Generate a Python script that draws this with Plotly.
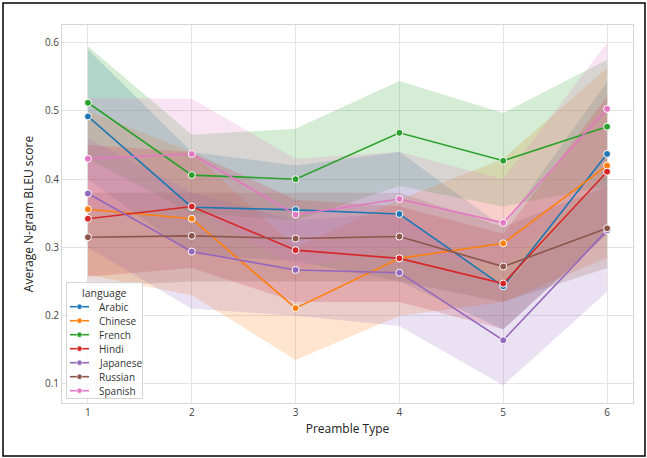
import plotly.graph_objects as go

preamble = [1, 2, 3, 4, 5, 6]
languages = ["Arabic", "Chinese", "French", "Hindi", "Japanese", "Russian", "Spanish"]
colors = ["#1f77b4", "#ff7f0e", "#2ca02c", "#d62728", "#9467bd", "#8c564b", "#e377c2"]

arabic = [0.492, 0.359, 0.355, 0.349, 0.243, 0.437]
chinese = [0.356, 0.342, 0.211, 0.284, 0.306, 0.420]
french = [0.512, 0.406, 0.400, 0.468, 0.427, 0.477]
hindi = [0.342, 0.360, 0.296, 0.284, 0.247, 0.411]
japanese = [0.379, 0.294, 0.267, 0.263, 0.164, 0.325]
russian = [0.315, 0.317, 0.313, 0.316, 0.272, 0.328]
spanish = [0.430, 0.437, 0.348, 0.371, 0.336, 0.503]

arabic_lo = [0.40, 0.29, 0.28, 0.25, 0.18, 0.32]
arabic_hi = [0.59, 0.44, 0.42, 0.44, 0.33, 0.543]
chinese_lo = [0.26, 0.23, 0.135, 0.20, 0.22, 0.285]
chinese_hi = [0.50, 0.44, 0.30, 0.37, 0.43, 0.563]
french_lo = [0.43, 0.35, 0.34, 0.39, 0.36, 0.39]
french_hi = [0.595, 0.465, 0.474, 0.544, 0.497, 0.575]
hindi_lo = [0.257, 0.27, 0.22, 0.22, 0.18, 0.32]
hindi_hi = [0.45, 0.44, 0.37, 0.36, 0.32, 0.521]
japanese_lo = [0.30, 0.21, 0.20, 0.185, 0.098, 0.235]
japanese_hi = [0.46, 0.38, 0.34, 0.35, 0.24, 0.41]
russian_lo = [0.243, 0.25, 0.25, 0.25, 0.22, 0.27]
russian_hi = [0.38, 0.38, 0.38, 0.38, 0.33, 0.39]
spanish_lo = [0.35, 0.36, 0.27, 0.30, 0.27, 0.41]
spanish_hi = [0.519, 0.518, 0.43, 0.44, 0.40, 0.60]

means = [arabic, chinese, french, hindi, japanese, russian, spanish]
lows = [arabic_lo, chinese_lo, french_lo, hindi_lo, japanese_lo, russian_lo, spanish_lo]
highs = [arabic_hi, chinese_hi, french_hi, hindi_hi, japanese_hi, russian_hi, spanish_hi]

W, H = 647, 458
ML, MR, MT, MB = 62, 14, 25, 55
PW, PH = W - ML - MR, H - MT - MB


def px_x(px):
    return (px - ML) / PW


def px_y(py):
    return (H - MB - py) / PH


def rgba(hexc, a):
    h = hexc.lstrip("#")
    r, g, b = int(h[0:2], 16), int(h[2:4], 16), int(h[4:6], 16)
    return f"rgba({r},{g},{b},{a})"


fig = go.Figure()
for name, col, lo, hi in zip(languages, colors, lows, highs):
    fig.add_trace(go.Scatter(
        x=preamble + preamble[::-1],
        y=hi + lo[::-1],
        fill="toself",
        fillcolor=rgba(col, 0.2),
        line=dict(width=0),
        mode="lines",
        showlegend=False,
        hoverinfo="skip",
    ))
for name, col, m in zip(languages, colors, means):
    fig.add_trace(go.Scatter(
        x=preamble, y=m, name=name, mode="lines+markers",
        line=dict(color=col, width=1.6),
        marker=dict(color=col, size=7, line=dict(color="white", width=1)),
        showlegend=False,
    ))

# custom compact legend (seaborn style)
shapes = [dict(type="rect", xref="paper", yref="paper",
               x0=px_x(3), x1=px_x(645), y0=px_y(456), y1=px_y(3),
               line=dict(color="black", width=1.5)),
          dict(type="rect", xref="paper", yref="paper",
               x0=px_x(66.5), x1=px_x(142.5), y0=px_y(398.5), y1=px_y(282.5),
               line=dict(color="#d5d5d5", width=1), fillcolor="rgba(255,255,255,0.8)",
               layer="above")]
annotations = [dict(text="language", xref="paper", yref="paper",
                    x=px_x(104.5), y=px_y(292.5), xanchor="center", yanchor="middle",
                    showarrow=False, font=dict(size=10.5, color="#333333"))]
row_y0, row_dy = 306.7, 14.0
for i, (name, col) in enumerate(zip(languages, colors)):
    yy = row_y0 + i * row_dy
    shapes.append(dict(type="line", xref="paper", yref="paper",
                       x0=px_x(70), x1=px_x(89), y0=px_y(yy), y1=px_y(yy),
                       line=dict(color=col, width=1.6), layer="above"))
    shapes.append(dict(type="circle", xref="paper", yref="paper",
                       xsizemode="pixel", ysizemode="pixel",
                       xanchor=px_x(79.5), yanchor=px_y(yy),
                       x0=-2.6, x1=2.6, y0=-2.6, y1=2.6,
                       fillcolor=col, line=dict(color="white", width=0.6), layer="above"))
    annotations.append(dict(text=name, xref="paper", yref="paper",
                            x=px_x(97), y=px_y(yy), xanchor="left", yanchor="middle",
                            showarrow=False, font=dict(size=10, color="#333333")))

grid = "#e3e3e3"
fig.update_layout(
    width=W, height=H,
    margin=dict(l=ML, r=MR, t=MT, b=MB),
    paper_bgcolor="white", plot_bgcolor="white",
    font=dict(family="Open Sans, DejaVu Sans, sans-serif", color="#333333"),
    showlegend=False,
    xaxis=dict(
        range=[0.75, 6.25], tickvals=preamble, showgrid=True, gridcolor=grid, gridwidth=1,
        zeroline=False, showline=True, linecolor="#d6d6d6", mirror=True, linewidth=1,
        ticks="", tickfont=dict(size=10, color="#444444"),
        title=dict(text="Preamble Type", font=dict(size=12, color="#222222"), standoff=6),
    ),
    yaxis=dict(
        range=[0.072, 0.626], tickvals=[0.1, 0.2, 0.3, 0.4, 0.5, 0.6],
        ticktext=["0.1", "0.2", "0.3", "0.4", "0.5", "0.6"],
        showgrid=True, gridcolor=grid, gridwidth=1,
        zeroline=False, showline=True, linecolor="#d6d6d6", mirror=True, linewidth=1,
        ticks="", tickfont=dict(size=10, color="#444444"),
        title=dict(text="Average N-gram BLEU score", font=dict(size=12, color="#222222"), standoff=8),
    ),
    shapes=shapes,
    annotations=annotations,
)

fig.write_html("out.html", config={"displayModeBar": False},
               post_script="document.body.style.margin='0';document.body.style.padding='0';")
